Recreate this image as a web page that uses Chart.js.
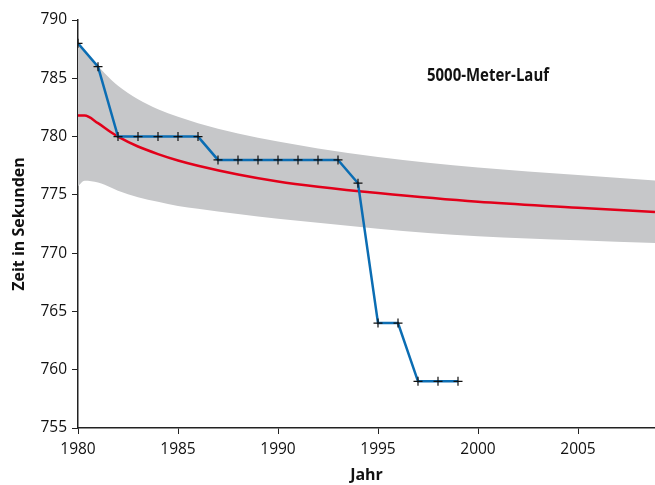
<!DOCTYPE html>
<html>
<head>
<meta charset="utf-8">
<script src="https://cdn.jsdelivr.net/npm/chart.js@4.4.0/dist/chart.umd.min.js"></script>
<style>
    html, body { margin: 0; padding: 0; background: #fff; overflow: hidden; }
    #wrap { width: 655px; height: 485px; }
    canvas { display: block; }
</style>
</head>
<body>
<div id="wrap"><canvas id="chart" width="655" height="485"></canvas></div>
<script>
// 5000-Meter-Lauf: Rekordzeiten und Modellkurve

const recordYears = [1980, 1981, 1982, 1983, 1984, 1985, 1986, 1987, 1988, 1989, 1990,
    1991, 1992, 1993, 1994, 1995, 1996, 1997, 1998, 1999];
const recordTimes = [788, 786, 780, 780, 780, 780, 780, 778, 778, 778, 778,
    778, 778, 778, 776, 764, 764, 759, 759, 759];

const curveYears = [1980, 1980.33, 1981, 1981.67, 1982, 1983, 1984, 1985, 1986, 1988, 1990,
    1992, 1995, 2000, 2005, 2008.85];
const modelTimes = [781.8, 781.8, 781.15, 780.35, 780.0, 779.15, 778.5, 777.95, 777.5, 776.75, 776.15,
    775.7, 775.15, 774.4, 773.9, 773.52];
const upperBand = [788.0, 787.3, 786.05, 784.85, 784.35, 783.2, 782.35, 781.7, 781.15, 780.27, 779.57,
    778.98, 778.25, 777.35, 776.7, 776.24];
const lowerBand = [775.73, 776.2, 776.05, 775.6, 775.35, 774.8, 774.4, 774.05, 773.8, 773.35, 772.95,
    772.6, 772.1, 771.45, 771.1, 770.86];

const yTicks = [755, 760, 765, 770, 775, 780, 785, 790];
const xTicks = [1980, 1985, 1990, 1995, 2000, 2005];

const chartTitle = '5000-Meter-Lauf';
const fontFamily = '"Open Sans", "Noto Sans", sans-serif';

const toPoints = (xs, ys) => xs.map((x, i) => ({ x: x, y: ys[i] }));

// Text label inside the plot area (narrow face, so squeeze it a little)
const titlePlugin = {
    id: 'innerTitle',
    afterDraw(chart) {
        const ctx = chart.ctx;
        ctx.save();
        ctx.font = 'bold 18.5px ' + fontFamily;
        ctx.fillStyle = '#111';
        ctx.textBaseline = 'alphabetic';
        const w = ctx.measureText(chartTitle).width;
        ctx.translate(427, 81);
        ctx.scale(122 / w, 1);
        ctx.fillText(chartTitle, 0, 0);
        ctx.restore();
    }
};

const ctx = document.getElementById('chart').getContext('2d');
new Chart(ctx, {
    type: 'line',
    data: {
        datasets: [
            {
                label: 'Rekorde',
                data: toPoints(recordYears, recordTimes),
                borderColor: '#0b6db3',
                borderWidth: 2.5,
                tension: 0,
                pointStyle: 'cross',
                pointRadius: 4.5,
                pointBorderColor: '#111',
                pointBorderWidth: 1.2,
                pointBackgroundColor: '#111',
                fill: false,
                order: 0
            },
            {
                label: 'Modell',
                data: toPoints(curveYears, modelTimes),
                borderColor: '#e2001a',
                borderWidth: 2.5,
                cubicInterpolationMode: 'monotone',
                pointRadius: 0,
                fill: false,
                order: 1
            },
            {
                label: 'oben',
                data: toPoints(curveYears, upperBand),
                borderWidth: 0,
                borderColor: 'rgba(0,0,0,0)',
                backgroundColor: '#c6c7c9',
                cubicInterpolationMode: 'monotone',
                pointRadius: 0,
                fill: '+1',
                order: 2
            },
            {
                label: 'unten',
                data: toPoints(curveYears, lowerBand),
                borderWidth: 0,
                borderColor: 'rgba(0,0,0,0)',
                cubicInterpolationMode: 'monotone',
                pointRadius: 0,
                fill: false,
                order: 3
            }
        ]
    },
    options: {
        responsive: false,
        animation: false,
        layout: { autoPadding: false, padding: { top: 20, right: 0, left: 0, bottom: 0 } },
        plugins: {
            legend: { display: false },
            tooltip: { enabled: false }
        },
        scales: {
            x: {
                type: 'linear',
                min: 1980,
                max: 2008.85,
                afterBuildTicks(scale) {
                    scale.ticks = xTicks.map(v => ({ value: v }));
                },
                afterFit(scale) {
                    scale.height = 57;
                    scale.paddingLeft = 0;
                    scale.paddingRight = 0;
                },
                grid: {
                    drawOnChartArea: false,
                    drawTicks: true,
                    tickLength: 6,
                    color: '#222'
                },
                border: { display: true, color: '#222', width: 1.5 },
                ticks: {
                    color: '#111',
                    padding: 6,
                    maxRotation: 0,
                    font: { family: fontFamily, size: 15.5 },
                    callback: v => String(v)
                },
                title: {
                    display: true,
                    text: 'Jahr',
                    color: '#111',
                    padding: { top: 0, bottom: 0 },
                    font: { family: fontFamily, size: 16, weight: 'bold' }
                }
            },
            y: {
                min: 755,
                max: 790,
                afterBuildTicks(scale) {
                    scale.ticks = yTicks.map(v => ({ value: v }));
                },
                afterFit(scale) {
                    scale.width = 78;
                    scale.paddingTop = 0;
                    scale.paddingBottom = 0;
                },
                grid: {
                    drawOnChartArea: false,
                    drawTicks: true,
                    tickLength: 6,
                    color: '#222'
                },
                border: { display: true, color: '#222', width: 1.5 },
                ticks: {
                    color: '#111',
                    padding: 5,
                    font: { family: fontFamily, size: 15.5 }
                },
                title: {
                    display: true,
                    text: 'Zeit in Sekunden',
                    color: '#111',
                    padding: { top: 10, bottom: 0 },
                    font: { family: fontFamily, size: 16, weight: 'bold' }
                }
            }
        }
    },
    plugins: [titlePlugin]
});
</script>
</body>
</html>
